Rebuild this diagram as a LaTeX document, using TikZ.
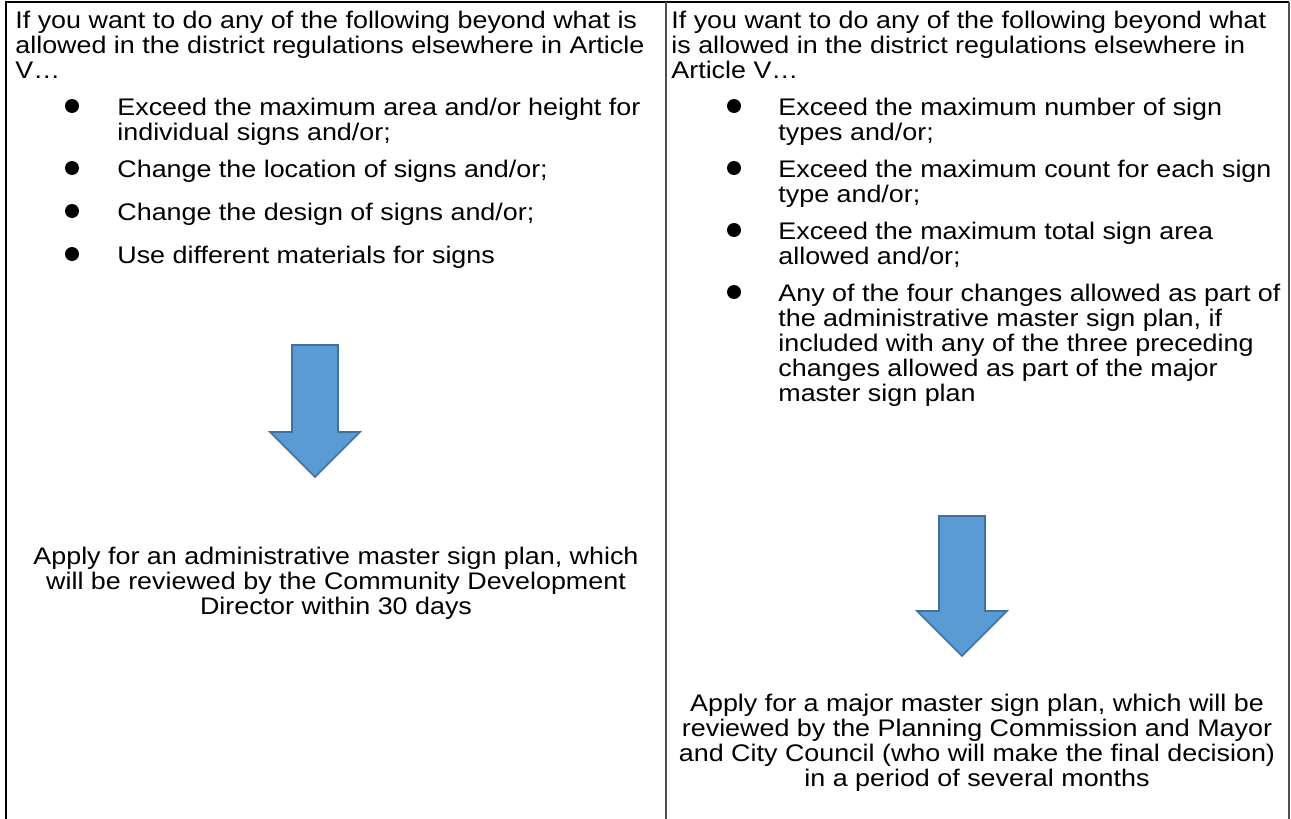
\documentclass[tikz,border=0pt]{standalone}
\usepackage{fontspec}
\setmainfont{Liberation Sans}
\newfontfamily\cellfamily[FakeStretch=1.12]{Liberation Sans}
\definecolor{arrowfill}{HTML}{5B9BD5}
\definecolor{arrowdraw}{HTML}{41719C}
\definecolor{rulegray}{HTML}{505050}
\newcommand{\firstline}{\rule{0pt}{12pt}}
\newcommand{\celltextfont}{\cellfamily\fontsize{12pt}{12.5pt}\selectfont\lineskiplimit=-30pt\relax\lineskip=0pt\relax}
\begin{document}
\begin{tikzpicture}[x=0.5pt,y=-0.5pt,
  txt/.style={font=\celltextfont, inner sep=0pt, anchor=north west, align=left},
  ctxt/.style={txt, anchor=north, align=center},
  dot/.style={circle, fill=black, inner sep=0pt, minimum size=7},
  blockarrow/.style={fill=arrowfill, draw=arrowdraw, line width=0.8pt, line join=miter},
  outerrule/.style={line width=1pt, draw=black},
  innerrule/.style={line width=1pt, draw=rulegray}]
\useasboundingbox (0,0) rectangle (1291,819);

% table rules
\coordinate (tl) at (6,2);
\coordinate (tr) at (1289,2);
\coordinate (tm) at (666,2);
\coordinate (bl) at (6,819);
\coordinate (bm) at (666,819);
\coordinate (br) at (1289,819);
\draw[outerrule] (bl) -- (tl) -- (tr);
\draw[innerrule] (tm) -- (bm);
\draw[innerrule] (tr) -- (br);

% left column
\node[txt] (lhead) at (15,4) {\firstline If you want to do any of the following beyond what is\\allowed in the district regulations elsewhere in Article\\V…};
\node[dot] (lb1) at (72,106) {};
\node[txt] (lt1) at (117,91) {\firstline Exceed the maximum area and/or height for\\individual signs and/or;};
\node[dot] (lb2) at (72,168) {};
\node[txt] (lt2) at (117,153) {\firstline Change the location of signs and/or;};
\node[dot] (lb3) at (72,211) {};
\node[txt] (lt3) at (117,196) {\firstline Change the design of signs and/or;};
\node[dot] (lb4) at (72,254) {};
\node[txt] (lt4) at (117,239) {\firstline Use different materials for signs};

\draw[blockarrow] (292,345) -- (338,345) -- (338,432) -- (360,432) -- (315,477) -- (270,432) -- (292,432) -- cycle;

\node[ctxt] (lapply) at (336,540) {\firstline Apply for an administrative master sign plan, which\\will be reviewed by the Community Development\\Director within 30 days};

% right column
\node[txt] (rhead) at (671,4) {\firstline If you want to do any of the following beyond what\\is allowed in the district regulations elsewhere in\\Article V…};
\node[dot] (rb1) at (734,106) {};
\node[txt] (rt1) at (778,91) {\firstline Exceed the maximum number of sign\\types and/or;};
\node[dot] (rb2) at (734,168) {};
\node[txt] (rt2) at (778,153) {\firstline Exceed the maximum count for each sign\\type and/or;};
\node[dot] (rb3) at (734,230) {};
\node[txt] (rt3) at (778,215) {\firstline Exceed the maximum total sign area\\allowed and/or;};
\node[dot] (rb4) at (734,292) {};
\node[txt] (rt4) at (778,277) {\firstline Any of the four changes allowed as part of\\the administrative master sign plan, if\\included with any of the three preceding\\changes allowed as part of the major\\master sign plan};

\draw[blockarrow] (939,516) -- (985,516) -- (985,611) -- (1007,611) -- (962,656) -- (917,611) -- (939,611) -- cycle;

\node[ctxt] (rapply) at (977,687) {\firstline Apply for a major master sign plan, which will be\\reviewed by the Planning Commission and Mayor\\and City Council (who will make the final decision)\\in a period of several months};
\end{tikzpicture}
\end{document}
